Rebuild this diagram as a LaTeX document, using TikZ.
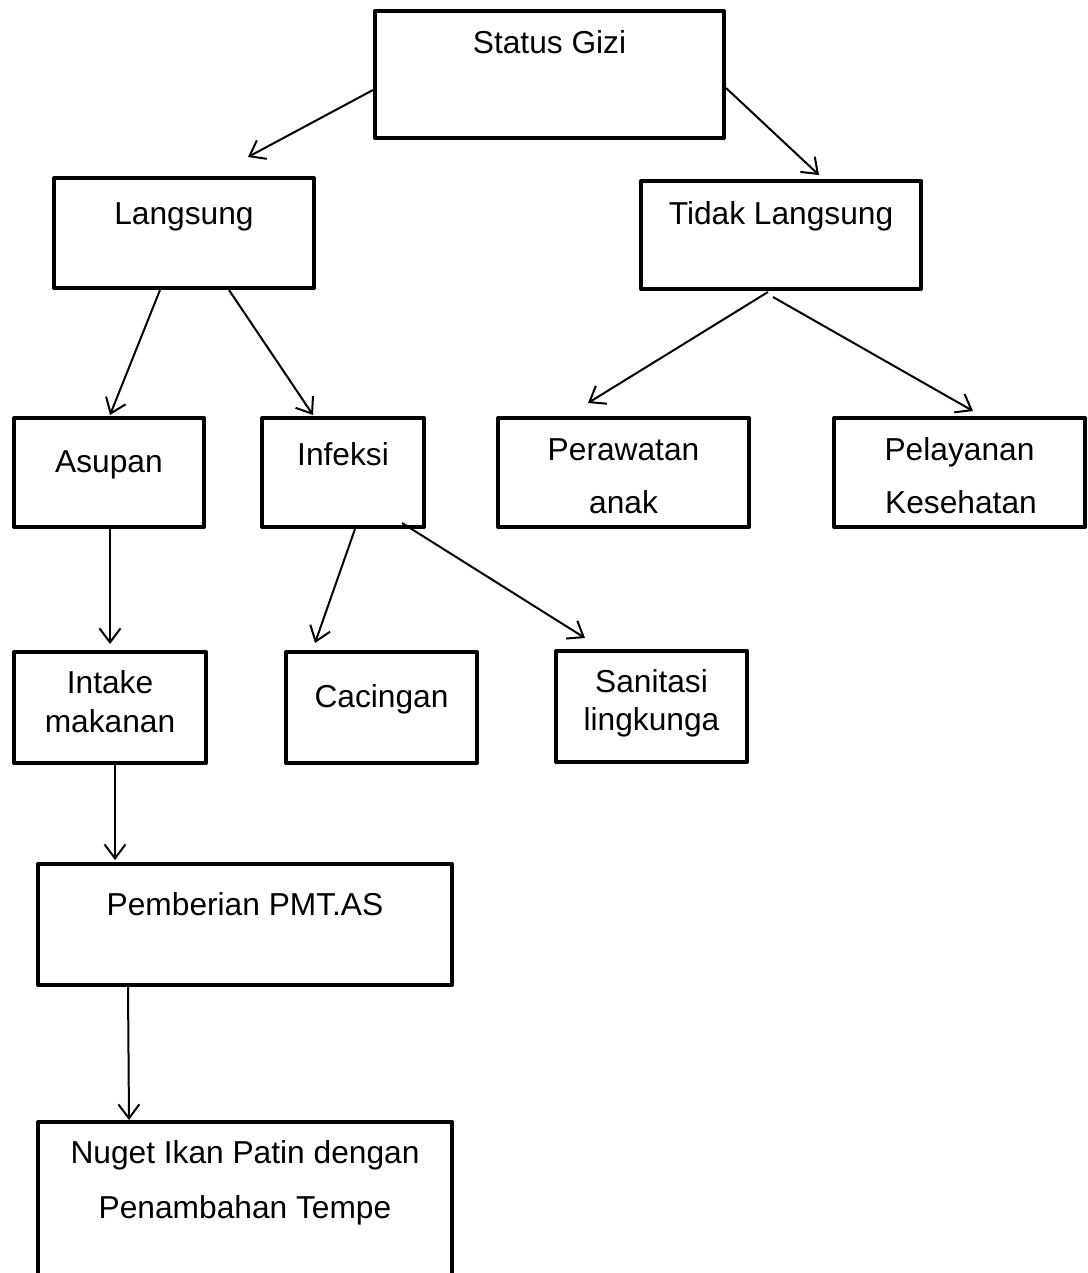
\documentclass[tikz,border=0pt]{standalone}
\usepackage{fontspec}
\setmainfont{Liberation Sans}
\usetikzlibrary{arrows.meta,calc}
\tikzset{
  boxnode/.style={draw=black, line width=4pt, line join=round, rectangle, inner sep=0pt, outer sep=0pt, fill=white},
  txt/.style={anchor=base, inner sep=0pt, outer sep=0pt, font=\fontsize{31.7}{38}\selectfont},
  arr/.style={line width=2pt, -{Straight Barb[length=14pt,width=21pt,line width=2pt]}}
}
\begin{document}
\begin{tikzpicture}[x=1pt,y=-1pt]
\useasboundingbox (0,0) rectangle (1087,1273);
\clip (0,0) rectangle (1087,1273);
\fill[white] (0,0) rectangle (1087,1273);
% boxes
\node[boxnode, minimum width=349pt, minimum height=127pt] (sg) at (549.5,74.5) {};
\node[boxnode, minimum width=260pt, minimum height=110pt] (lg) at (184,233) {};
\node[boxnode, minimum width=280pt, minimum height=108pt] (tl) at (781,235) {};
\node[boxnode, minimum width=190pt, minimum height=109pt] (as) at (109,472.5) {};
\node[boxnode, minimum width=162pt, minimum height=109pt] (inf) at (343,472.5) {};
\node[boxnode, minimum width=251pt, minimum height=109pt] (pr) at (623.5,472.5) {};
\node[boxnode, minimum width=251pt, minimum height=109pt] (pl) at (959.5,472.5) {};
\node[boxnode, minimum width=192pt, minimum height=111pt] (in) at (110,707.5) {};
\node[boxnode, minimum width=191pt, minimum height=111pt] (cc) at (381.5,707.5) {};
\node[boxnode, minimum width=191pt, minimum height=111pt] (sn) at (651.5,706.5) {};
\node[boxnode, minimum width=414pt, minimum height=121pt] (pm) at (245,924.5) {};
\node[boxnode, minimum width=414pt, minimum height=168pt] (ng) at (245,1206) {};
% texts
\node[txt] (tsg) at (549.5,54) {Status Gizi};
\node[txt] (tlg) at (184,225) {Langsung};
\node[txt] (ttl) at (781,225) {Tidak Langsung};
\node[txt] (tas) at (109,472) {Asupan};
\node[txt] (tinf) at (343,465) {Infeksi};
\node[txt] (tpr1) at (623.5,460) {Perawatan};
\node[txt] (tpr2) at (623.5,513) {anak};
\node[txt] (tpl1) at (959.5,460) {Pelayanan};
\node[txt] (tpl2) at (961,513) {Kesehatan};
\node[txt] (tin1) at (110,693) {Intake};
\node[txt] (tin2) at (110,732) {makanan};
\node[txt] (tcc) at (381.5,707) {Cacingan};
\node[txt] (tsn1) at (651.5,692) {Sanitasi};
\node[txt] (tsn2) at (651.5,730) {lingkunga};
\node[txt] (tpm) at (245,915) {Pemberian PMT.AS};
\node[txt] (tng1) at (245,1163) {Nuget Ikan Patin dengan};
\node[txt] (tng2) at (245,1218) {Penambahan Tempe};
% arrows
\draw[arr] ($(sg.west)+(-2,15.5)$) -- ($(lg.north)+(64,-21)$);
\draw[arr] ($(sg.east)+(2,13.5)$) -- ($(tl.north)+(38,-6)$);
\draw[arr] ($(lg.south)+(-24,2)$) -- ($(as.north)+(1,-3)$);
\draw[arr] ($(lg.south)+(45,2)$) -- ($(inf.north)+(-30,-3)$);
\draw[arr] ($(tl.south)+(-13,3)$) -- ($(pr.north)+(-35.5,-15)$);
\draw[arr] ($(tl.south)+(-8,8)$) -- ($(pl.north)+(13.5,-7)$);
\draw[arr] ($(as.south)+(1,2)$) -- ($(in.north)+(0,-8)$);
\draw[arr] ($(inf.south)+(12,2)$) -- ($(cc.north)+(-66.5,-9)$);
\draw[arr] ($(inf.south)+(59,-4)$) -- ($(sn.north)+(-66.5,-13)$);
\draw[arr] ($(in.south)+(5,2)$) -- ($(pm.north)+(-130,-4)$);
\draw[arr] ($(pm.south)+(-117,2)$) -- ($(ng.north)+(-116,-2)$);
\end{tikzpicture}
\end{document}
